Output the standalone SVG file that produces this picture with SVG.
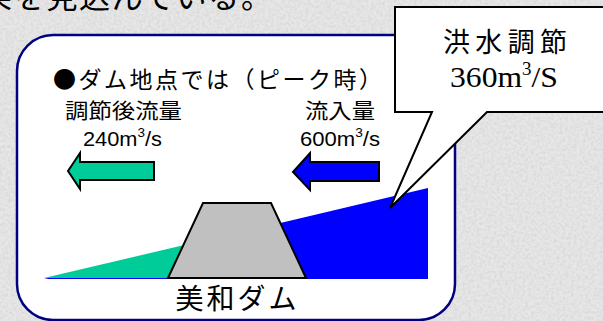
<svg xmlns="http://www.w3.org/2000/svg" width="603" height="321" viewBox="0 0 603 321">
<style>
.jp{font-family:"Noto Sans CJK JP","Noto Sans",sans-serif;fill:#000}
.num{font-family:"Liberation Sans",Arial,sans-serif;fill:#000}
.ser{font-family:"Liberation Serif","Noto Sans CJK JP",serif;fill:#000}
.ol{stroke:#000;stroke-width:2;stroke-linejoin:miter}
</style>
<defs>
<filter id="tex" x="0" y="0" width="100%" height="100%">
<feTurbulence type="fractalNoise" baseFrequency="0.35" numOctaves="3" seed="4" result="n"/>
<feColorMatrix in="n" type="matrix" values="0 0 0 0 0.55  0 0 0 0 0.55  0 0 0 0 0.55  0 0 0 -1.6 1.05" result="s"/>
<feComposite in="s" in2="SourceGraphic" operator="in"/>
</filter>
</defs>
<rect x="0" y="0" width="603" height="321" fill="#e7e7e7"/>
<rect x="0" y="0" width="603" height="321" fill="#e7e7e7" filter="url(#tex)" opacity="0.5"/>
<text class="jp" x="-19" y="8" font-size="31" textLength="291" lengthAdjust="spacing">果を見込んでいる。</text>

<g id="panel">
<rect x="17" y="35" width="438" height="285" rx="36" ry="36" fill="#fff" stroke="#000080" stroke-width="2.5"/>
<text class="jp" x="53" y="88" font-size="23" textLength="329" lengthAdjust="spacing">●ダム地点では（ピーク時）</text>
</g>

<g id="reservoir">
<polygon points="44,279 428,188 428,279" fill="#0000ff"/>
<polygon points="44,278 195,242.5 195,278" fill="#00cc99"/>
</g>

<g id="dam">
<polygon class="ol" points="203,203 271,203 306,278 168,278" fill="#c0c0c0" stroke-width="2.5"/>
<text class="jp" x="236" y="309" font-size="28" text-anchor="middle" textLength="121" lengthAdjust="spacing">美和ダム</text>
</g>

<g id="outflow">
<text class="jp" x="65" y="118" font-size="21" textLength="117" lengthAdjust="spacingAndGlyphs">調節後流量</text>
<text class="num" x="83" y="146" font-size="21" textLength="79" lengthAdjust="spacingAndGlyphs">240m<tspan font-size="13" dy="-9">3</tspan><tspan dy="9">/s</tspan></text>
<polygon class="ol" points="68,171 80,153 80,162 154,162 154,180 80,180 80,189" fill="#00cc99"/>
</g>

<g id="inflow">
<text class="jp" x="305" y="118" font-size="21" textLength="70" lengthAdjust="spacingAndGlyphs">流入量</text>
<text class="num" x="300" y="146" font-size="21" textLength="80" lengthAdjust="spacingAndGlyphs">600m<tspan font-size="13" dy="-9">3</tspan><tspan dy="9">/s</tspan></text>
<polygon class="ol" points="293,172 310,153 310,162 379,162 379,181 310,181 310,190" fill="#0000ff"/>
</g>

<g id="callout">
<path class="ol" d="M395,7 H605 V112 H487 L390,208 L432,112 H395 Z" fill="#fff"/>
<text class="jp" x="443" y="52" font-size="27" textLength="124" lengthAdjust="spacing">洪水調節</text>
<text class="ser" x="450" y="87" font-size="30" textLength="108" lengthAdjust="spacingAndGlyphs">360m<tspan font-size="18" dy="-12">3</tspan><tspan dy="12">/S</tspan></text>
</g>
</svg>
